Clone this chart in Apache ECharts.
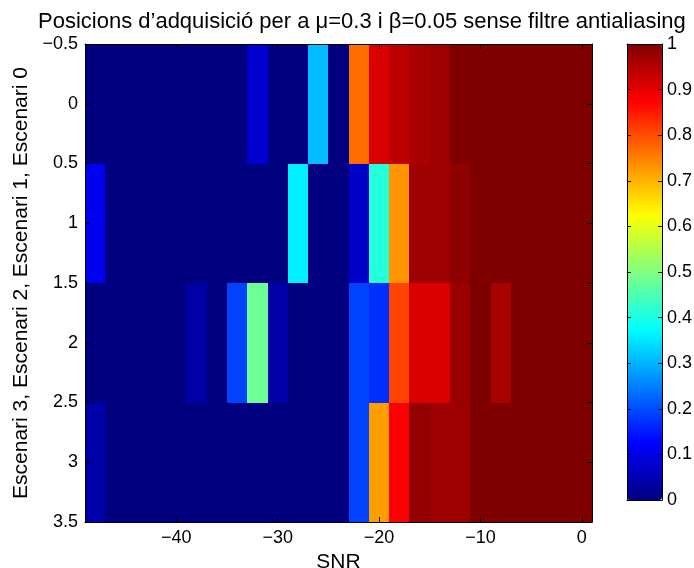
<!DOCTYPE html>
<html>
<head>
<meta charset="utf-8">
<script src="https://cdn.jsdelivr.net/npm/echarts@6/dist/echarts.min.js"></script>
<style>html,body{margin:0;padding:0;background:#fff;}#c{width:694px;height:568px;}</style>
</head>
<body>
<div id="c"></div>
<script>
// SNR column centres (dB)
const snr = [-48,-46,-44,-42,-40,-38,-36,-34,-32,-30,-28,-26,-24,-22,-20,-18,-16,-14,-12,-10,-8,-6,-4,-2,0];
// Scenario rows (row index = scenario number)
const scenarios = [0, 1, 2, 3];
const escenari0 = [0,0,0,0,0,0,0,0,0.08,0,0,0.31,0,0.77,0.91,0.94,0.96,0.97,1,1,1,1,1,1,1];
const escenari1 = [0.11,0,0,0,0,0,0,0,0,0,0.36,0,0,0.07,0.41,0.73,0.97,0.97,0.985,1,1,1,1,1,1];
const escenari2 = [0,0,0,0,0,0.04,0,0.19,0.48,0.04,0,0,0,0.19,0.17,0.81,0.91,0.91,0.975,1,0.96,1,1,1,1];
const escenari3 = [0.04,0,0,0,0,0,0,0,0,0,0,0,0,0.19,0.72,0.88,0.98,0.97,0.97,1,1,1,1,1,1];
const xTicks = [-40,-30,-20,-10,0];
const yTicks = [-0.5,0,0.5,1,1.5,2,2.5,3,3.5];
const cbTicks = [0,0.1,0.2,0.3,0.4,0.5,0.6,0.7,0.8,0.9,1];

const rows = [escenari0, escenari1, escenari2, escenari3];
const data = [];
rows.forEach((r, i) => r.forEach((v, j) => data.push([snr[j], scenarios[i], v])));
const halfW = (snr[1] - snr[0]) / 2;
const halfH = (scenarios[1] - scenarios[0]) / 2;

const FONT = 'Liberation Sans';
const minus = v => (v < 0 ? '\u2212' : '') + Math.abs(v);
const jet = ['#000080','#0000ff','#0080ff','#00ffff','#80ff80','#ffff00','#ff8000','#ff0000','#800000'];

const chart = echarts.init(document.getElementById('c'), null, {renderer: 'canvas'});
const ls = {color: '#000', width: 1};
const line = {show: true, onZero: false, lineStyle: ls};
chart.setOption({
  animation: false,
  backgroundColor: '#fff',
  textStyle: {fontFamily: FONT},
  title: {
    text: "Posicions d\u2019adquisici\u00f3 per a \u03bc=0.3 i \u03b2=0.05 sense filtre antialiasing",
    left: 33, top: 6,
    textStyle: {fontFamily: FONT, fontSize: 22, fontWeight: 'normal', color: '#000'}
  },
  grid: [
    {left: 85, top: 44, width: 507, height: 478, outerBoundsMode: 'none', containLabel: false},
    {left: 627, top: 44, width: 35, height: 456, outerBoundsMode: 'none', containLabel: false}
  ],
  xAxis: [
    {type: 'value', gridIndex: 0, min: -49, max: 1, position: 'bottom', z: 10,
     name: 'SNR', nameLocation: 'middle', nameGap: 27,
     nameTextStyle: {fontFamily: FONT, fontSize: 21, color: '#000'},
     axisLine: line,
     axisTick: {show: true, inside: true, length: 5, lineStyle: ls, customValues: xTicks},
     axisLabel: {color: '#000', fontSize: 18, fontFamily: FONT, margin: 7, customValues: xTicks, formatter: minus},
     splitLine: {show: false}},
    {type: 'value', gridIndex: 0, min: -49, max: 1, position: 'top', z: 10,
     axisLine: line,
     axisTick: {show: true, inside: true, length: 5, lineStyle: ls, customValues: xTicks},
     axisLabel: {show: false}, splitLine: {show: false}},
    {type: 'value', gridIndex: 1, min: 0, max: 1, position: 'bottom', z: 10,
     axisLine: line, axisTick: {show: false}, axisLabel: {show: false}, splitLine: {show: false}},
    {type: 'value', gridIndex: 1, min: 0, max: 1, position: 'top', z: 10,
     axisLine: line, axisTick: {show: false}, axisLabel: {show: false}, splitLine: {show: false}}
  ],
  yAxis: [
    {type: 'value', gridIndex: 0, min: -0.5, max: 3.5, interval: 0.5, inverse: true, position: 'left', z: 10,
     name: 'Escenari 3, Escenari 2, Escenari 1, Escenari 0', nameLocation: 'middle', nameGap: 50,
     nameTextStyle: {fontFamily: FONT, fontSize: 21, color: '#000'},
     axisLine: line,
     axisTick: {show: true, inside: true, length: 5, lineStyle: ls},
     axisLabel: {color: '#000', fontSize: 18, fontFamily: FONT, margin: 7, formatter: minus, showMinLabel: true, showMaxLabel: true},
     splitLine: {show: false}},
    {type: 'value', gridIndex: 0, min: -0.5, max: 3.5, interval: 0.5, inverse: true, position: 'right', z: 10,
     axisLine: line,
     axisTick: {show: true, inside: true, length: 5, lineStyle: ls},
     axisLabel: {show: false}, splitLine: {show: false}},
    {type: 'value', gridIndex: 1, min: 0, max: 1, interval: 0.1, position: 'right', z: 10,
     axisLine: line,
     axisTick: {show: true, inside: true, length: 4, lineStyle: ls},
     axisLabel: {color: '#000', fontSize: 18, fontFamily: FONT, margin: 5, showMinLabel: true, showMaxLabel: true},
     splitLine: {show: false}},
    {type: 'value', gridIndex: 1, min: 0, max: 1, interval: 0.1, position: 'left', z: 10,
     axisLine: line,
     axisTick: {show: true, inside: true, length: 4, lineStyle: ls},
     axisLabel: {show: false}, splitLine: {show: false}}
  ],
  visualMap: {
    type: 'continuous', min: 0, max: 1, dimension: 2, seriesIndex: 0,
    calculable: false, hoverLink: false, realtime: false,
    left: 627, top: 44, itemWidth: 35, itemHeight: 456, padding: 0,
    inRange: {color: jet}
  },
  series: [{
    type: 'custom',
    xAxisIndex: 0, yAxisIndex: 0,
    encode: {x: 0, y: 1},
    data: data,
    renderItem: function (params, api) {
      const x = api.value(0), y = api.value(1);
      const p0 = api.coord([x - halfW, y - halfH]);
      const p1 = api.coord([x + halfW, y + halfH]);
      const x0 = Math.round(Math.min(p0[0], p1[0])), x1 = Math.round(Math.max(p0[0], p1[0]));
      const y0 = Math.round(Math.min(p0[1], p1[1])), y1 = Math.round(Math.max(p0[1], p1[1]));
      return {type: 'rect', shape: {x: x0, y: y0, width: x1 - x0, height: y1 - y0},
              style: {fill: api.visual('color')}};
    }
  }]
});
</script>
</body>
</html>
